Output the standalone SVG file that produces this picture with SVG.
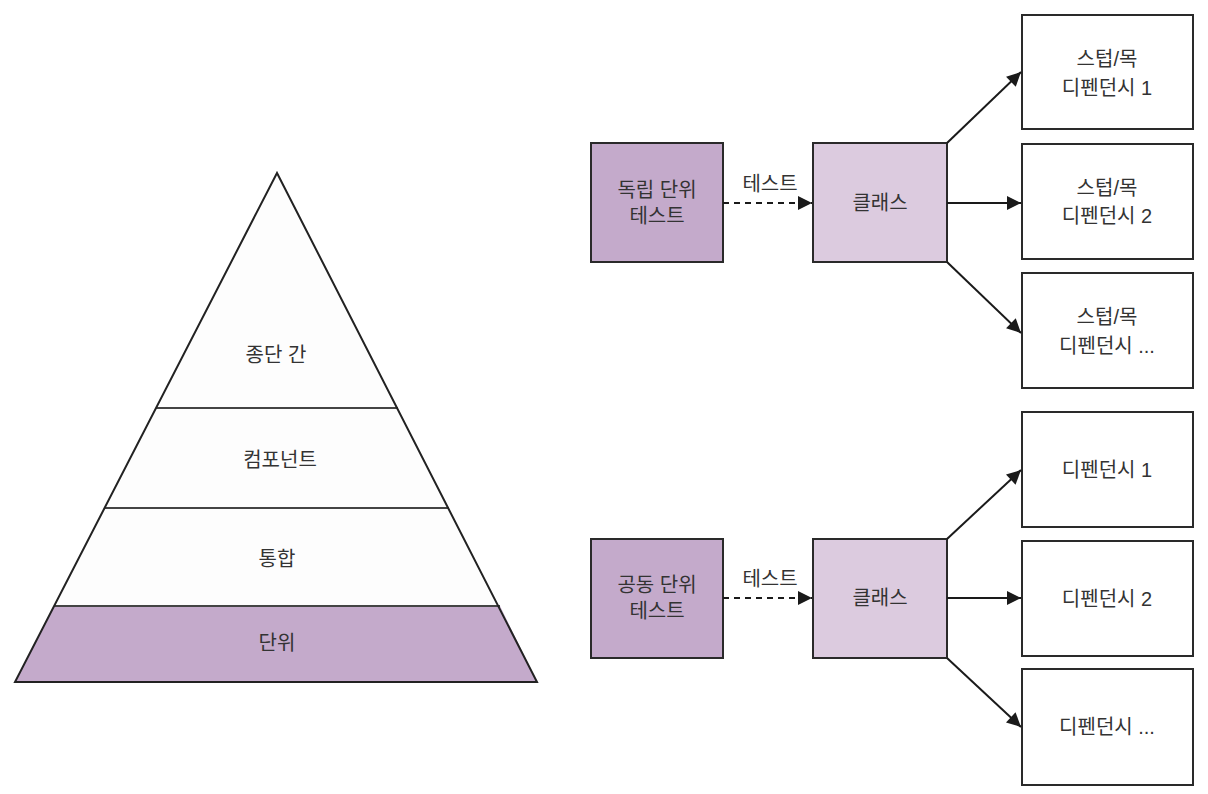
<svg xmlns="http://www.w3.org/2000/svg" width="1208" height="794" viewBox="0 0 1208 794">
<defs>
<style>
text{font-family:"Liberation Sans","Noto Sans CJK KR",sans-serif;font-size:20px;fill:#333;text-anchor:middle;dominant-baseline:central}
.box{stroke:#2a2a2a;stroke-width:2}
.dark{fill:#c4aacb}
.light{fill:#dccbdf}
.white{fill:#fff}
.con{stroke:#1a1a1a;stroke-width:2;fill:none}
.dash{stroke-dasharray:6 5}
</style>
<marker id="ah" viewBox="0 0 10 10" refX="10" refY="5" markerWidth="18" markerHeight="14" markerUnits="userSpaceOnUse" orient="auto">
<path d="M0,0 L10,5 L0,10 z" fill="#1a1a1a"/>
</marker>
</defs>
<rect width="1208" height="794" fill="#fff"/>
<g id="pyramid">
<polygon points="277,173 15,682 537,682" fill="#fdfdfd" stroke="none"/>
<polygon points="54,606 500,606 537,682 15,682" class="dark"/>
<line x1="156" y1="408" x2="398" y2="408" stroke="#444" stroke-width="2"/>
<line x1="105" y1="508" x2="449" y2="508" stroke="#444" stroke-width="2"/>
<line x1="54" y1="606" x2="500" y2="606" stroke="#444" stroke-width="2"/>
<polygon points="277,173 15,682 537,682" fill="none" stroke="#222" stroke-width="2"/>
<text x="276" y="355">종단 간</text>
<text x="280" y="460">컴포넌트</text>
<text x="277" y="559">통합</text>
<text x="277" y="643">단위</text>
</g>
<g id="isolated">
<rect x="591" y="143" width="132" height="119" class="box dark"/>
<text x="657" y="190">독립 단위</text>
<text x="657" y="216">테스트</text>
</g>
<g id="class1">
<rect x="813" y="143" width="134" height="119" class="box light"/>
<text x="880" y="203">클래스</text>
</g>
<g id="stub1">
<rect x="1022" y="15" width="171" height="114" class="box white"/>
<text x="1107" y="59">스텁/목</text>
<text x="1107" y="88">디펜던시 1</text>
</g>
<g id="stub2">
<rect x="1022" y="144" width="171" height="115" class="box white"/>
<text x="1107" y="188">스텁/목</text>
<text x="1107" y="216">디펜던시 2</text>
</g>
<g id="stub3">
<rect x="1022" y="273" width="171" height="115" class="box white"/>
<text x="1107" y="317">스텁/목</text>
<text x="1107" y="346">디펜던시 ...</text>
</g>
<g id="sociable">
<rect x="591" y="539" width="132" height="119" class="box dark"/>
<text x="657" y="585">공동 단위</text>
<text x="657" y="611">테스트</text>
</g>
<g id="class2">
<rect x="813" y="539" width="134" height="119" class="box light"/>
<text x="880" y="598">클래스</text>
</g>
<g id="dep1">
<rect x="1022" y="412" width="171" height="115" class="box white"/>
<text x="1107" y="470">디펜던시 1</text>
</g>
<g id="dep2">
<rect x="1022" y="541" width="171" height="115" class="box white"/>
<text x="1107" y="599">디펜던시 2</text>
</g>
<g id="dep3">
<rect x="1022" y="669" width="171" height="116" class="box white"/>
<text x="1107" y="727">디펜던시 ...</text>
</g>
<g id="connectors">
<line x1="723" y1="203" x2="812" y2="203" class="con dash" marker-end="url(#ah)"/>
<text x="770" y="184">테스트</text>
<line x1="947" y1="143" x2="1021" y2="72" class="con" marker-end="url(#ah)"/>
<line x1="947" y1="203" x2="1021" y2="203" class="con" marker-end="url(#ah)"/>
<line x1="947" y1="262" x2="1021" y2="333" class="con" marker-end="url(#ah)"/>
<line x1="723" y1="598" x2="812" y2="598" class="con dash" marker-end="url(#ah)"/>
<text x="770" y="579">테스트</text>
<line x1="947" y1="539" x2="1021" y2="470" class="con" marker-end="url(#ah)"/>
<line x1="947" y1="598" x2="1021" y2="598" class="con" marker-end="url(#ah)"/>
<line x1="947" y1="658" x2="1021" y2="727" class="con" marker-end="url(#ah)"/>
</g>
</svg>
